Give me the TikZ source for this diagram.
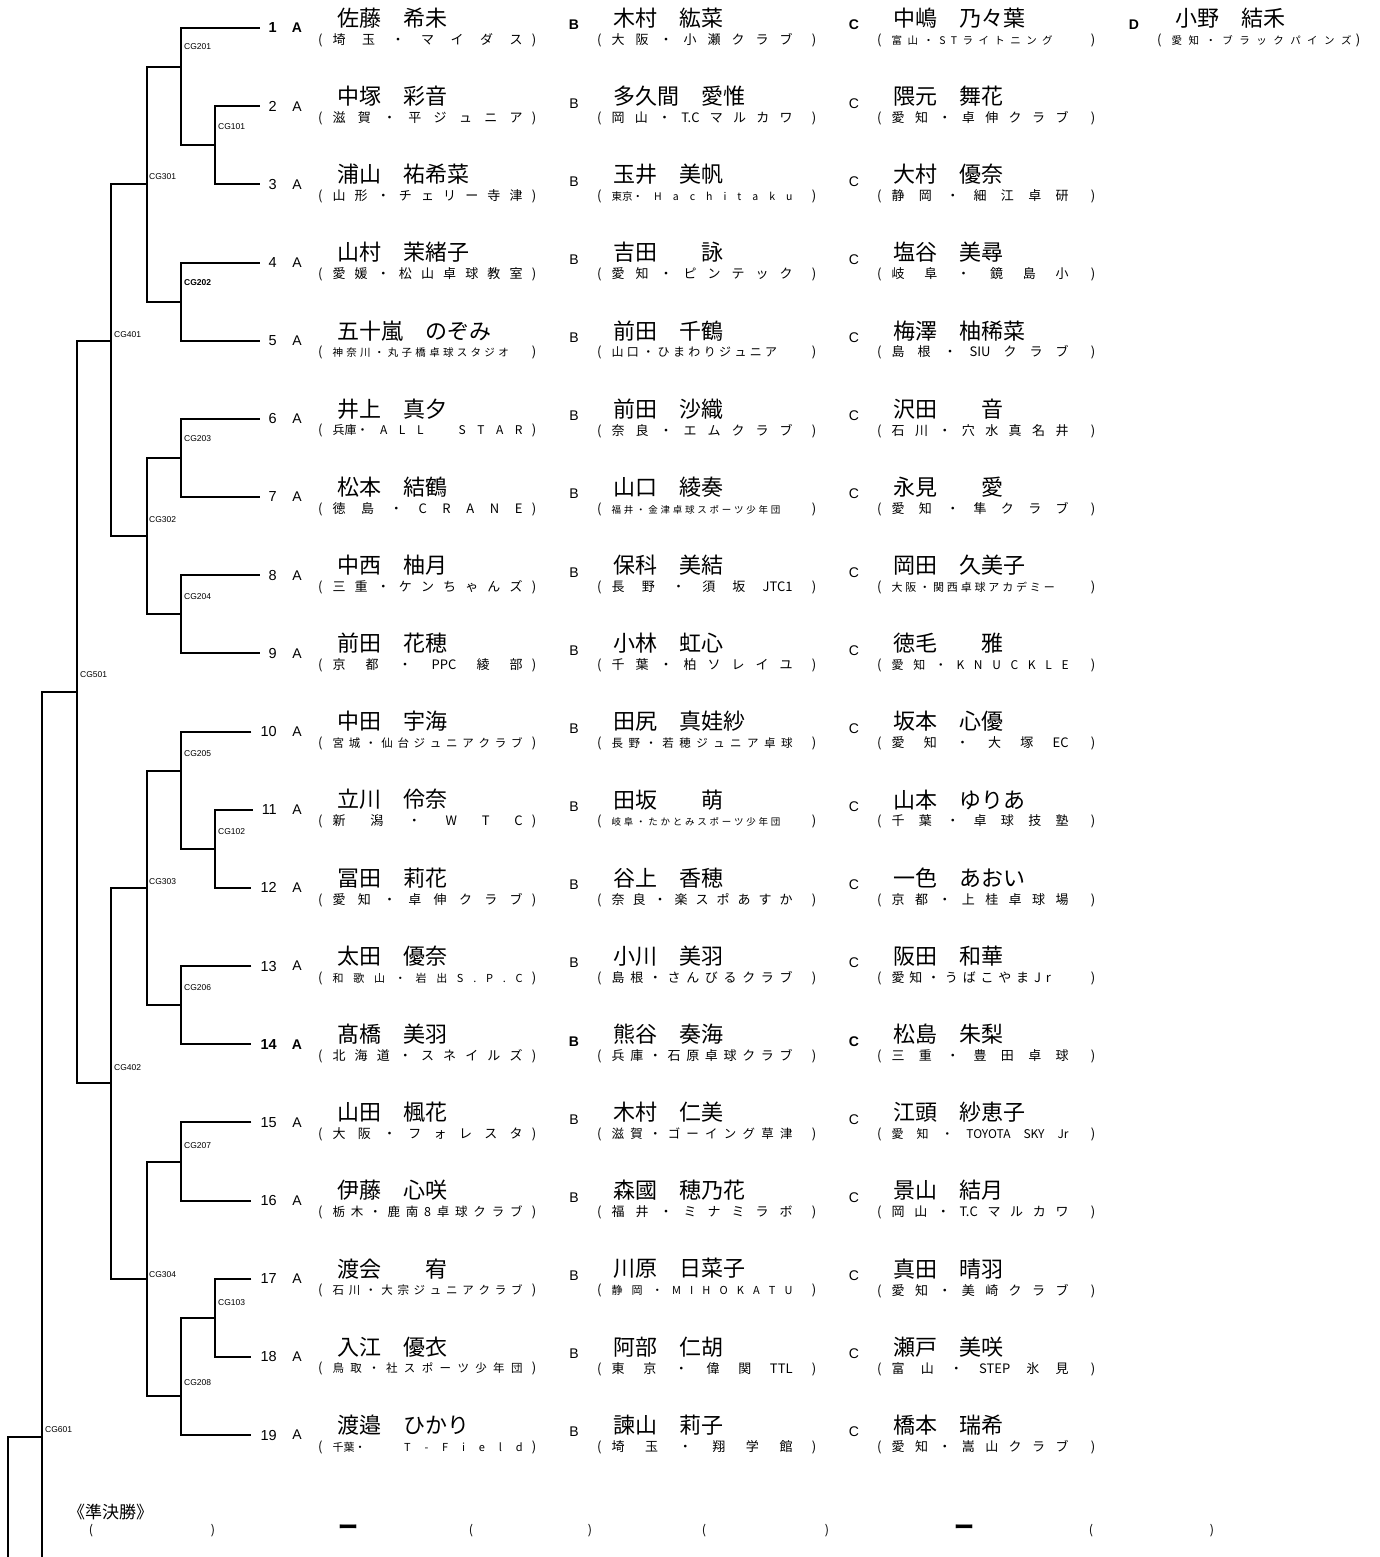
\documentclass[tikz,border=0pt]{standalone}
\usepackage{fontspec}
\setmainfont{Liberation Sans}
\newfontfamily\jp{Noto Sans CJK JP}
\def\dist#1{\distfirst#1\relax}
\def\distfirst#1{#1\distrest}
\def\distrest#1{\ifx\relax#1\else\hfil#1\expandafter\distrest\fi}
% #1 span, #2 content width, #3 font size, #4 items
\newcommand\parenbox[4]{\hbox to #1pt{\jp\fontsize{13}{13}\selectfont(\hskip 10pt\hbox to #2pt{\fontsize{#3}{#3}\selectfont\dist{#4}}\hfil)}}
\def\rowbf{}
\tikzset{
 br/.style={line width=2pt},
 num/.style={anchor=east, inner xsep=9pt, inner ysep=0pt, font=\fontsize{14.5}{14.5}\selectfont\rowbf},
 let/.style={inner sep=0pt, font=\fontsize{14}{14}\selectfont\rowbf},
 nm/.style={anchor=west, inner sep=0pt, font=\jp\fontsize{22}{22}\selectfont},
 sb/.style={anchor=west, inner sep=0pt},
 cg/.style={anchor=west, inner sep=0pt, font=\fontsize{8.5}{8.5}\selectfont},
 par/.style={inner sep=0pt, font=\jp\fontsize{12.5}{12.5}\selectfont},
 bar/.style={inner sep=0pt, font=\jp\bfseries\fontsize{20}{20}\selectfont},
}
\newcommand\prow[8]{%
 \node[num] (n#1) at (286,#2) {#1};
 \node[let] (la#1) at (297,#2) {A};
 \node[nm] (na#1) at (337,#2-10) {#3};
 \node[sb] (sa#1) at (318,#2+12) {\parenbox{218}{190}#4};
 \node[let] (lb#1) at (574,#2-3) {B};
 \node[nm] (nb#1) at (613,#2-10) {#5};
 \node[sb] (sb#1) at (597,#2+12) {\parenbox{219}{181}#6};
 \node[let] (lc#1) at (854,#2-3) {C};
 \node[nm] (nc#1) at (893,#2-10) {#7};
 \node[sb] (sc#1) at (877,#2+12) {\parenbox{218}{177}#8};
}
\begin{document}
\begin{tikzpicture}[x=1pt,y=-1pt]
\fill[white] (0,0) rectangle (1380,1557);
\useasboundingbox (0,0) rectangle (1380,1557);

% ---------- players ----------
\def\rowbf{\bfseries}
\prow{1}{28}{佐藤　希未}{{13}{埼玉・マイダス}}{木村　紘菜}{{13}{大阪・小瀬クラブ}}{中嶋　乃々葉}{{10.5}{富山・STライトニング　}}
\node[let] (ld1) at (1134,25) {D};
\def\rowbf{}
\node[nm] (nd1) at (1175,18) {小野　結禾};
\node[sb] (sd1) at (1157,40) {\parenbox{203}{180}{10.5}{愛知・ブラックパインズ}};
\prow{2}{106.2}{中塚　彩音}{{13}{滋賀・平ジュニア}}{多久間　愛惟}{{13}{岡山・{T.C}マルカワ}}{隈元　舞花}{{13}{愛知・卓伸クラブ}}
\prow{3}{184.3}{浦山　祐希菜}{{13}{山形・チェリー寺津}}{玉井　美帆}{{10.5}{{東京・}Hachitaku}}{大村　優奈}{{13}{静岡・細江卓研}}
\prow{4}{262.5}{山村　茉緒子}{{13}{愛媛・松山卓球教室}}{吉田　　詠}{{13}{愛知・ピンテック}}{塩谷　美尋}{{13}{岐阜・鏡島小}}
\prow{5}{340.7}{五十嵐　のぞみ}{{10.5}{神奈川・丸子橋卓球スタジオ　}}{前田　千鶴}{{12}{山口・ひまわりジュニア　}}{梅澤　柚稀菜}{{13}{島根・{SIU}クラブ}}
\prow{6}{418.9}{井上　真夕}{{12}{{兵庫・}ALL　STAR}}{前田　沙織}{{13}{奈良・エムクラブ}}{沢田　　音}{{13}{石川・穴水真名井}}
\prow{7}{497}{松本　結鶴}{{13}{徳島・CRANE}}{山口　綾奏}{{9.5}{福井・金津卓球スポーツ少年団　}}{永見　　愛}{{13}{愛知・隼クラブ}}
\prow{8}{575.2}{中西　柚月}{{13}{三重・ケンちゃんズ}}{保科　美結}{{13}{長野・須坂{JTC1}}}{岡田　久美子}{{11}{大阪・関西卓球アカデミー　}}
\prow{9}{653.4}{前田　花穂}{{13}{京都・{PPC}綾部}}{小林　虹心}{{13}{千葉・柏ソレイユ}}{徳毛　　雅}{{12}{愛知・KNUCKLE}}
\prow{10}{731.5}{中田　宇海}{{11.5}{宮城・仙台ジュニアクラブ}}{田尻　真娃紗}{{11.5}{長野・若穂ジュニア卓球}}{坂本　心優}{{13}{愛知・大塚{EC}}}
\prow{11}{809.7}{立川　伶奈}{{13}{新潟・WTC}}{田坂　　萌}{{9.5}{岐阜・たかとみスポーツ少年団　}}{山本　ゆりあ}{{13}{千葉・卓球技塾}}
\prow{12}{887.9}{冨田　莉花}{{13}{愛知・卓伸クラブ}}{谷上　香穂}{{13}{奈良・楽スポあすか}}{一色　あおい}{{13}{京都・上桂卓球場}}
\prow{13}{966}{太田　優奈}{{11}{和歌山・岩出S.P.C}}{小川　美羽}{{13}{島根・さんびるクラブ}}{阪田　和華}{{13}{愛知・うばこやまJr　}}
\def\rowbf{\bfseries}
\prow{14}{1044.2}{髙橋　美羽}{{13}{北海道・スネイルズ}}{熊谷　奏海}{{13}{兵庫・石原卓球クラブ}}{松島　朱梨}{{13}{三重・豊田卓球}}
\def\rowbf{}
\prow{15}{1122.4}{山田　楓花}{{13}{大阪・フォレスタ}}{木村　仁美}{{12.5}{滋賀・ゴーイング草津}}{江頭　紗恵子}{{12}{愛知・{TOYOTA}{SKY}{Jr}}}
\prow{16}{1200.6}{伊藤　心咲}{{12.5}{栃木・鹿南8卓球クラブ}}{森國　穂乃花}{{13}{福井・ミナミラボ}}{景山　結月}{{13}{岡山・{T.C}マルカワ}}
\prow{17}{1278.7}{渡会　　宥}{{11.5}{石川・大宗ジュニアクラブ}}{川原　日菜子}{{11}{静岡・MIHOKATU}}{真田　晴羽}{{13}{愛知・美崎クラブ}}
\prow{18}{1356.9}{入江　優衣}{{11.5}{鳥取・社スポーツ少年団}}{阿部　仁胡}{{13}{東京・偉関{TTL}}}{瀬戸　美咲}{{13}{富山・{STEP}氷見}}
\prow{19}{1435.1}{渡邉　ひかり}{{11}{{千葉・}　T-Field}}{諫山　莉子}{{13}{埼玉・翔学館}}{橋本　瑞希}{{13}{愛知・嵩山クラブ}}

% ---------- bracket coordinates ----------
\coordinate (m101) at (215,145.2);  \coordinate (m101a) at (215,106.2);  \coordinate (m101b) at (215,184.3);
\coordinate (m201) at (181,67.1);   \coordinate (m201a) at (181,28);     \coordinate (m201b) at (181,145.2);
\coordinate (m202) at (181,301.6);  \coordinate (m202a) at (181,262.5);  \coordinate (m202b) at (181,340.7);
\coordinate (m301) at (147,184.3);  \coordinate (m301a) at (147,67.1);   \coordinate (m301b) at (147,301.6);
\coordinate (m203) at (181,458);    \coordinate (m203a) at (181,418.9);  \coordinate (m203b) at (181,497);
\coordinate (m204) at (181,614.3);  \coordinate (m204a) at (181,575.2);  \coordinate (m204b) at (181,653.4);
\coordinate (m302) at (147,536.1);  \coordinate (m302a) at (147,458);    \coordinate (m302b) at (147,614.3);
\coordinate (m401) at (111,340.7);  \coordinate (m401a) at (111,184.3);  \coordinate (m401b) at (111,536.1);
\coordinate (m102) at (215,848.8);  \coordinate (m102a) at (215,809.7);  \coordinate (m102b) at (215,887.9);
\coordinate (m205) at (181,770.6);  \coordinate (m205a) at (181,731.5);  \coordinate (m205b) at (181,848.8);
\coordinate (m206) at (181,1005.1); \coordinate (m206a) at (181,966);    \coordinate (m206b) at (181,1044.2);
\coordinate (m303) at (147,887.9);  \coordinate (m303a) at (147,770.6);  \coordinate (m303b) at (147,1005.1);
\coordinate (m207) at (181,1161.5); \coordinate (m207a) at (181,1122.4); \coordinate (m207b) at (181,1200.6);
\coordinate (m103) at (215,1317.8); \coordinate (m103a) at (215,1278.7); \coordinate (m103b) at (215,1356.9);
\coordinate (m208) at (181,1396);   \coordinate (m208a) at (181,1317.8); \coordinate (m208b) at (181,1435.1);
\coordinate (m304) at (147,1278.7); \coordinate (m304a) at (147,1161.5); \coordinate (m304b) at (147,1396);
\coordinate (m402) at (111,1083.3); \coordinate (m402a) at (111,887.9);  \coordinate (m402b) at (111,1278.7);
\coordinate (m501) at (77,692.4);   \coordinate (m501a) at (77,340.7);   \coordinate (m501b) at (77,1083.3);
\coordinate (m601) at (42,1437);    \coordinate (m601a) at (42,692.4);   \coordinate (m601b) at (42,1557);
\coordinate (fin) at (8,1437);      \coordinate (finb) at (8,1557);

% ---------- bracket lines ----------
\draw[br] (n2.west) -- (m101a) -- (m101b) -- (n3.west);
\draw[br] (n1.west) -- (m201a) -- (m201b) -- (m101);
\draw[br] (n4.west) -- (m202a) -- (m202b) -- (n5.west);
\draw[br] (m201) -- (m301a) -- (m301b) -- (m202);
\draw[br] (n6.west) -- (m203a) -- (m203b) -- (n7.west);
\draw[br] (n8.west) -- (m204a) -- (m204b) -- (n9.west);
\draw[br] (m203) -- (m302a) -- (m302b) -- (m204);
\draw[br] (m301) -- (m401a) -- (m401b) -- (m302);
\draw[br] (n11.west) -- (m102a) -- (m102b) -- (n12.west);
\draw[br] (n10.west) -- (m205a) -- (m205b) -- (m102);
\draw[br] (n13.west) -- (m206a) -- (m206b) -- (n14.west);
\draw[br] (m205) -- (m303a) -- (m303b) -- (m206);
\draw[br] (n15.west) -- (m207a) -- (m207b) -- (n16.west);
\draw[br] (n17.west) -- (m103a) -- (m103b) -- (n18.west);
\draw[br] (m103) -- (m208a) -- (m208b) -- (n19.west);
\draw[br] (m207) -- (m304a) -- (m304b) -- (m208);
\draw[br] (m303) -- (m402a) -- (m402b) -- (m304);
\draw[br] (m401) -- (m501a) -- (m501b) -- (m402);
\draw[br] (m501) -- (m601a) -- (m601b);
\draw[br] (m601) -- (fin) -- (finb);

% ---------- match labels ----------
\node[cg] (lCG201) at (184,47) {CG201};
\node[cg] (lCG101) at (218,127) {CG101};
\node[cg] (lCG301) at (149,177) {CG301};
\node[cg,font=\fontsize{8.5}{8.5}\selectfont\bfseries] (lCG202) at (184,283) {CG202};
\node[cg] (lCG401) at (114,335) {CG401};
\node[cg] (lCG203) at (184,439) {CG203};
\node[cg] (lCG302) at (149,520) {CG302};
\node[cg] (lCG204) at (184,597) {CG204};
\node[cg] (lCG501) at (80,675) {CG501};
\node[cg] (lCG205) at (184,754) {CG205};
\node[cg] (lCG102) at (218,832) {CG102};
\node[cg] (lCG303) at (149,882) {CG303};
\node[cg] (lCG206) at (184,988) {CG206};
\node[cg] (lCG402) at (114,1068) {CG402};
\node[cg] (lCG207) at (184,1146) {CG207};
\node[cg] (lCG304) at (149,1275) {CG304};
\node[cg] (lCG103) at (218,1303) {CG103};
\node[cg] (lCG208) at (184,1383) {CG208};
\node[cg] (lCG601) at (45,1430) {CG601};

% ---------- semifinal ----------
\node[anchor=west, inner sep=0pt, font=\jp\fontsize{17}{17}\selectfont] (sf) at (68,1512) {《準決勝》};
\node[par] (p1) at (91,1531) {(};
\node[par] (p2) at (213,1531) {)};
\node[bar] (d1) at (348,1530) {ー};
\node[par] (p3) at (471,1531) {(};
\node[par] (p4) at (590,1531) {)};
\node[par] (p5) at (704,1531) {(};
\node[par] (p6) at (827,1531) {)};
\node[bar] (d2) at (964,1530) {ー};
\node[par] (p7) at (1091,1531) {(};
\node[par] (p8) at (1212,1531) {)};
\end{tikzpicture}
\end{document}
